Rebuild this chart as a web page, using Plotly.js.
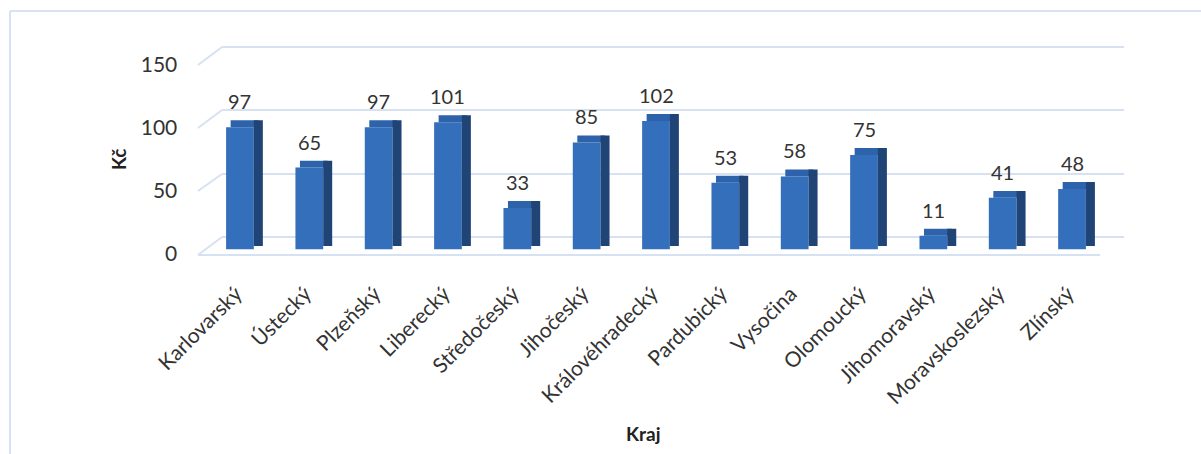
<!DOCTYPE html>
<html>
<head>
<meta charset="utf-8">
<script src="https://cdn.plot.ly/plotly-3.0.1.min.js"></script>
<style>html,body{margin:0;padding:0;background:#fff;}#chart{width:1201px;height:454px;}</style>
</head>
<body>
<div id="chart"></div>
<script>
// ---- data ----
const categories = ["Karlovarský","Ústecký","Plzeňský","Liberecký","Středočeský","Jihočeský","Královéhradecký","Pardubický","Vysočina","Olomoucký","Jihomoravský","Moravskoslezský","Zlínský"];
const values = [97, 65, 97, 101, 33, 85, 102, 53, 58, 75, 11, 41, 48];
const yTicks = [0, 50, 100, 150];
const yTickLabels = ["0", "50", "100", "150"];

// ---- style constants ----
const FONT = "Lato, 'Open Sans', sans-serif";
const TXT = "#333333";
const GRID = "#D6E1F2";
const DEPTH = 5.5; // pseudo-3D depth in value units

const W = 1201, H = 454;
const px = x => x / W;
const py = y => (H - y) / H;

// invisible trace so the back-wall grid subplot is drawn
const wallTrace = {
  type: "scatter", mode: "markers", x: [0.5], y: [0], xaxis: "x", yaxis: "y",
  marker: {opacity: 0, size: 1}, hoverinfo: "skip", showlegend: false
};
const frontFace = {
  type: "bar", x: categories, y: values, xaxis: "x2", yaxis: "y2",
  width: 0.4, offset: -0.2,
  marker: {color: "#336FBA", line: {width: 0}},
  hoverinfo: "skip", showlegend: false
};
const topFace = {
  type: "bar", x: categories, y: values.map(() => DEPTH), base: values,
  xaxis: "x2", yaxis: "y2",
  width: 0.4, offset: -0.135,
  marker: {color: "#2D63AA", line: {width: 0}},
  hoverinfo: "skip", showlegend: false
};
const sideFace = {
  type: "bar", x: categories, y: values.map(v => v + DEPTH * 0.5), base: DEPTH * 0.5,
  xaxis: "x2", yaxis: "y2",
  width: 0.13, offset: 0.2,
  marker: {color: "#1F4475", line: {width: 0}},
  hoverinfo: "skip", showlegend: false
};

const labelAnns = categories.map((c, i) => ({
  x: c, y: values[i], xref: "x2", yref: "y2",
  text: String(values[i]), showarrow: false,
  yanchor: "middle", yshift: 26,
  font: {family: FONT, size: 20, color: TXT}
}));

// pseudo-3D floor / wall edges (decoration)
const deco = [];
const wallFront = {150: 65, 100: 128, 50: 191, 0: 255};
const wallBack = {150: 47, 100: 110, 50: 174, 0: 237};
yTicks.forEach(t => {
  deco.push({type: "line", xref: "paper", yref: "paper",
    x0: px(198), y0: py(wallFront[t]), x1: px(222), y1: py(wallBack[t]),
    line: {color: GRID, width: 2}, layer: "below"});
});
deco.push({type: "line", xref: "paper", yref: "paper",
  x0: px(198), y0: py(255), x1: px(1100), y1: py(255),
  line: {color: GRID, width: 2}, layer: "below"});
// chart frame
deco.push({type: "line", xref: "paper", yref: "paper",
  x0: px(10), y0: py(11), x1: px(10), y1: 0, line: {color: "#D9E2F1", width: 2}});
deco.push({type: "line", xref: "paper", yref: "paper",
  x0: px(10), y0: py(11), x1: 1, y1: py(11), line: {color: "#D9E2F1", width: 2}});

const layout = {
  width: W, height: H,
  margin: {l: 0, r: 0, t: 0, b: 0, pad: 0},
  paper_bgcolor: "#ffffff", plot_bgcolor: "rgba(0,0,0,0)",
  font: {family: FONT, color: TXT},
  barmode: "overlay",
  showlegend: false,
  // back wall grid subplot
  xaxis: {domain: [px(222), px(1124)], range: [0, 1], anchor: "y",
    showgrid: false, zeroline: false, showticklabels: false, showline: false, ticks: "", automargin: false, fixedrange: true},
  yaxis: {domain: [py(240.8), py(43.2)], range: [-3, 153], anchor: "x",
    tickmode: "array", tickvals: yTicks, showticklabels: false, showgrid: true, gridcolor: GRID, gridwidth: 2,
    zeroline: false, showline: false, ticks: "", automargin: false, fixedrange: true},
  // bars subplot
  xaxis2: {domain: [px(205.3), px(1106.7)], range: [-0.5, 12.5], anchor: "y2", type: "category",
    showgrid: false, zeroline: false, showline: false, ticks: "",
    tickangle: -45, ticklabelstandoff: 27, ticklabelshift: -4,
    tickfont: {family: FONT, size: 21, color: TXT}, automargin: false, fixedrange: true},
  yaxis2: {domain: [py(249.5), py(58)], range: [0, 152], anchor: "x2",
    tickmode: "array", tickvals: yTicks, ticktext: yTickLabels, showgrid: false, zeroline: false, showline: false, ticks: "",
    ticklabelstandoff: 27, ticklabelshift: 4,
    tickfont: {family: FONT, size: 21, color: TXT}, automargin: false, fixedrange: true},
  annotations: labelAnns.concat([
    {xref: "paper", yref: "paper", x: px(643), y: py(433), text: "<b>Kraj</b>", showarrow: false,
      xanchor: "center", yanchor: "middle", font: {family: FONT, size: 19, color: "#222"}},
    {xref: "paper", yref: "paper", x: px(119), y: py(160), text: "<b>Kč</b>", showarrow: false, textangle: -90,
      xanchor: "center", yanchor: "middle", font: {family: FONT, size: 19, color: "#222"}}
  ]),
  shapes: deco
};

Plotly.newPlot("chart", [wallTrace, frontFace, topFace, sideFace], layout, {displayModeBar: false, staticPlot: true});
</script>
</body>
</html>
